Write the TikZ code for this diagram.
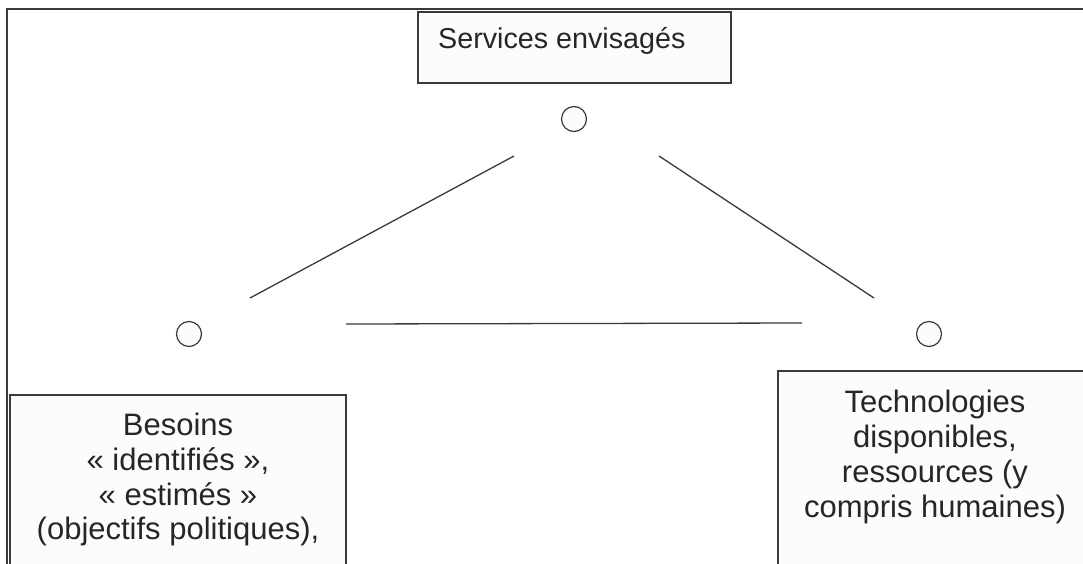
\documentclass[tikz,border=0pt]{standalone}
\usepackage{fontspec}
\setmainfont{Liberation Sans}
\definecolor{ink}{HTML}{262626}
\definecolor{edge}{HTML}{3A3A3A}
\definecolor{paper}{HTML}{FCFCFC}
\begin{document}
\begin{tikzpicture}[x=1pt,y=-1pt,
  frame/.style={draw=edge,line width=1.6pt},
  boxshape/.style={draw=edge,line width=1.4pt,fill=paper},
  vertex/.style={circle,draw=edge,line width=1.2pt,fill=paper,minimum size=25pt,inner sep=0pt},
  link/.style={draw=edge,line width=1.3pt},
  boxtext/.style={text=ink,font=\fontsize{31}{34.8}\selectfont,align=center,inner sep=0pt,anchor=north},
  toptext/.style={text=ink,font=\fontsize{28.7}{32}\selectfont,inner sep=0pt,anchor=base west}]
\useasboundingbox (0,0) rectangle (1083,563);
\clip (0,0) rectangle (1083,563);
\fill[white] (0,0) rectangle (1083,563);

% outer frame (open to the right and bottom)
\draw[frame] (1095,9) -- (7,9) -- (7,575);

% boxes
\draw[boxshape] (418,12) rectangle (731,83);
\draw[boxshape] (10,395) rectangle (346,580);
\draw[boxshape] (778,371) rectangle (1100,580);

% labels
\node[toptext] (services) at (438,48) {Services envisagés};
\node[boxtext] (besoins) at (178,412.8) {Besoins\\« identifiés »,\\« estimés »\\(objectifs politiques),};
\node[boxtext] (techno) at (935,390) {Technologies\\disponibles,\\ressources (y\\compris humaines)};

% vertices of the triangle
\node[vertex] (top) at (574,119) {};
\node[vertex] (left) at (189,334) {};
\node[vertex] (right) at (929,334) {};

% free line ends
\coordinate (tl1) at (514,156);
\coordinate (tl2) at (250,298);
\coordinate (tr1) at (659,156);
\coordinate (tr2) at (874,298);
\coordinate (b1) at (346,324);
\coordinate (b2) at (802,323);

\draw[link] (tl1) -- (tl2);
\draw[link] (tr1) -- (tr2);
\draw[link] (b1) -- (b2);
\end{tikzpicture}
\end{document}
